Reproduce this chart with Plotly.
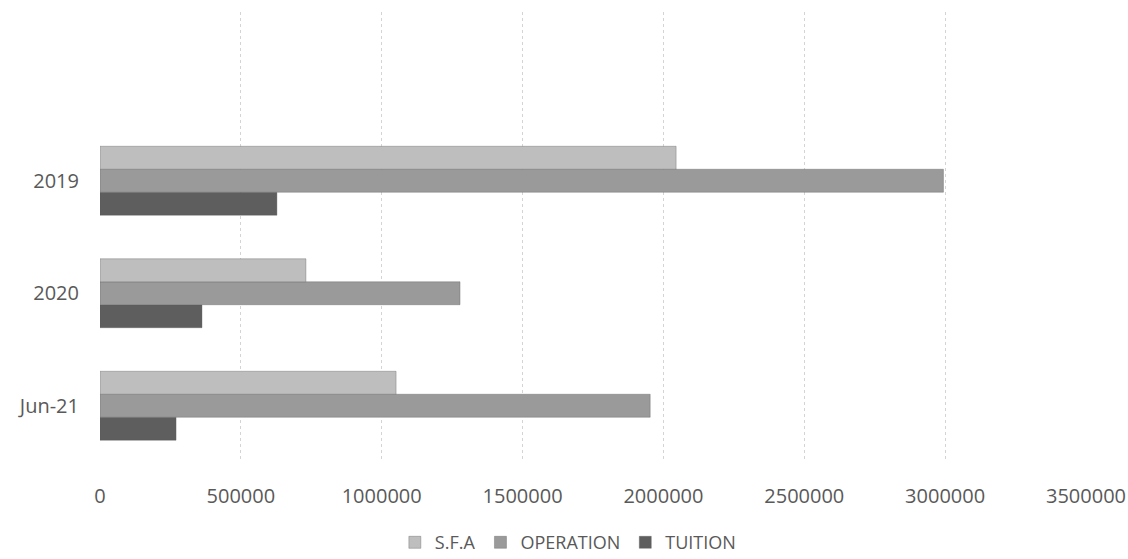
import plotly.graph_objects as go

categories = ["2019", "2020", "Jun-21"]
sfa = [2045000, 731000, 1051000]
operation = [2994000, 1278000, 1953000]
tuition = [628000, 362000, 270000]
x_ticks = [0, 500000, 1000000, 1500000, 2000000, 2500000, 3000000, 3500000]

colors = {"S.F.A": "#bebebe", "OPERATION": "#9a9a9a", "TUITION": "#5e5e5e"}

fig = go.Figure()
# added bottom-to-top so S.F.A ends on top within each group
for name, vals in [("TUITION", tuition), ("OPERATION", operation), ("S.F.A", sfa)]:
    fig.add_trace(go.Bar(
        y=categories, x=vals, name=name, orientation="h",
        marker=dict(color=colors[name], line=dict(color="rgba(90,90,90,0.35)", width=1)),
    ))

font_family = "Open Sans, Liberation Sans, sans-serif"
fig.update_layout(
    width=1128, height=559,
    paper_bgcolor="white", plot_bgcolor="white",
    barmode="group", bargap=0.387, bargroupgap=0,
    margin=dict(l=100, r=42, t=12, b=97, autoexpand=False),
    font=dict(family=font_family, size=20, color="#595959"),
    showlegend=True,
    legend=dict(orientation="h", traceorder="reversed", x=0.475, xanchor="center",
                y=-0.138, yanchor="top", font=dict(size=18, color="#595959"),
                itemwidth=30, tracegroupgap=0),
    xaxis=dict(range=[0, 3500000], tickvals=x_ticks, ticktext=[str(v) for v in x_ticks],
               showgrid=True, gridcolor="#d4d4d4", griddash="dot", gridwidth=1,
               zeroline=False, showline=False, ticks="", ticklabelstandoff=20,
               automargin=False, tickfont=dict(size=20, color="#595959")),
    yaxis=dict(categoryorder="array", categoryarray=categories[::-1],
               range=[-0.5, 3.5], showgrid=False, zeroline=False, showline=False,
               ticks="", ticklabelstandoff=20, automargin=False,
               tickfont=dict(size=20, color="#595959")),
)

fig.write_html("out.html", config={"displayModeBar": False},
               post_script="document.body.style.margin='0';document.body.style.overflow='hidden';")
